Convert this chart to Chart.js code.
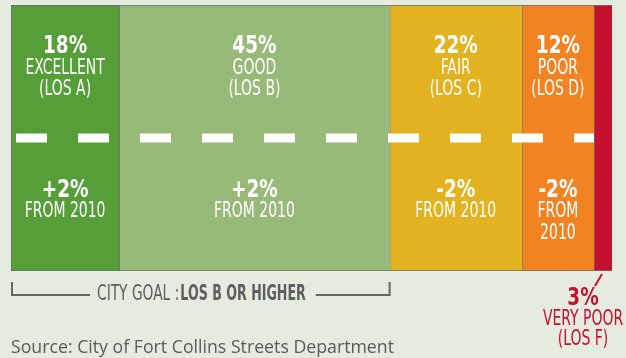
<!DOCTYPE html>
<html>
<head>
<meta charset="utf-8">
<script src="https://cdn.jsdelivr.net/npm/chart.js@4"></script>
<style>
  body { margin: 0; background: #e5ecdf; }
  canvas { display: block; }
</style>
</head>
<body>
<canvas id="losChart" width="626" height="358"></canvas>
<script>
// Street pavement condition (level of service) shares
const levels = ["EXCELLENT", "GOOD", "FAIR", "POOR", "VERY POOR"];
const losCodes = ["(LOS A)", "(LOS B)", "(LOS C)", "(LOS D)", "(LOS F)"];
const shares = [18, 45, 22, 12, 3];
const changeFrom2010 = [2, 2, -2, -2, null];
const segmentColors = ["#569e37", "#97ba78", "#e3b221", "#f28323", "#c4122e"];
const goalLevels = 2; // LOS A + LOS B
const sourceText = "Source: City of Fort Collins Streets Department";

const narrow = '"Liberation Sans Narrow", "DejaVu Sans Condensed", sans-serif';

// draw horizontally squeezed text (the condensed look of the labels)
function squeezeText(ctx, text, x, y, font, color, sx, align) {
  ctx.save();
  ctx.font = font;
  ctx.fillStyle = color;
  ctx.textAlign = align || "center";
  ctx.textBaseline = "middle";
  ctx.translate(x, y);
  ctx.scale(sx, 1);
  ctx.fillText(text, 0, 0);
  ctx.restore();
}

function textWidth(ctx, text, font, sx) {
  ctx.save();
  ctx.font = font;
  const w = ctx.measureText(text).width * sx;
  ctx.restore();
  return w;
}

const labelPlugin = {
  id: "losLabels",
  afterDatasetsDraw(chart) {
    const ctx = chart.ctx;
    const area = chart.chartArea;
    const xScale = chart.scales.x;
    const bold = "bold 25px " + narrow;
    const reg = "21px " + narrow;
    const sx = 0.74;
    const bsx = 0.82;

    // white dashed divider
    const redBar = chart.getDatasetMeta(levels.length - 1).data[0];
    const midY = (area.top + area.bottom) / 2;
    ctx.save();
    ctx.strokeStyle = "#ffffff";
    ctx.lineWidth = 9;
    ctx.setLineDash([31, 31]);
    ctx.beginPath();
    ctx.moveTo(area.left + 5, midY);
    ctx.lineTo(redBar.base, midY);
    ctx.stroke();
    ctx.restore();

    shares.forEach((v, i) => {
      const bar = chart.getDatasetMeta(i).data[0];
      const w = bar.x - bar.base;
      const cx = (bar.x + bar.base) / 2;
      if (w < 30) {
        // too thin: label goes under the bar in the segment colour
        const lx = area.right - 29;
        squeezeText(ctx, v + "%", lx, area.bottom + 27, bold, segmentColors[i], bsx);
        squeezeText(ctx, levels[i], lx, area.bottom + 49, reg, segmentColors[i], sx);
        squeezeText(ctx, losCodes[i], lx, area.bottom + 69, reg, segmentColors[i], sx);
        ctx.save();
        ctx.strokeStyle = segmentColors[i];
        ctx.lineWidth = 2;
        ctx.beginPath();
        ctx.moveTo(cx - 1, area.bottom + 3);
        ctx.lineTo(cx - 8, area.bottom + 15);
        ctx.stroke();
        ctx.restore();
        return;
      }
      squeezeText(ctx, v + "%", cx, 46, bold, "#ffffff", bsx);
      squeezeText(ctx, levels[i], cx, 69, reg, "#ffffff", sx);
      squeezeText(ctx, losCodes[i], cx, 90, reg, "#ffffff", sx);

      const c = changeFrom2010[i];
      if (c !== null) {
        squeezeText(ctx, (c > 0 ? "+" : "-") + Math.abs(c) + "%", cx, 190, bold, "#ffffff", bsx);
        const line = "FROM 2010";
        if (textWidth(ctx, line, reg, sx) > w - 10) {
          squeezeText(ctx, "FROM", cx, 212, reg, "#ffffff", sx);
          squeezeText(ctx, "2010", cx, 234, reg, "#ffffff", sx);
        } else {
          squeezeText(ctx, line, cx, 212, reg, "#ffffff", sx);
        }
      }
    });

    // city goal bracket under LOS A + B
    let goal = 0;
    for (let i = 0; i < goalLevels; i++) goal += shares[i];
    const gx0 = xScale.getPixelForValue(0);
    const gx1 = xScale.getPixelForValue(goal);
    const gy = area.bottom + 24;
    const grey = "#5e5e5e";
    const lightFont = "21px " + narrow;
    const boldFont = "bold 21px " + narrow;
    const part1 = "CITY GOAL :";
    const part2 = "LOS B OR HIGHER";
    const w1 = textWidth(ctx, part1, lightFont, 0.73);
    const w2 = textWidth(ctx, part2, boldFont, 0.67);
    const tx = gx0 + 86;
    squeezeText(ctx, part1, tx, gy, lightFont, grey, 0.73, "left");
    squeezeText(ctx, part2, tx + w1 + 1, gy, boldFont, grey, 0.67, "left");

    ctx.save();
    ctx.strokeStyle = "#666666";
    ctx.lineWidth = 2;
    ctx.beginPath();
    ctx.moveTo(gx0 + 1, area.bottom + 11);
    ctx.lineTo(gx0 + 1, gy);
    ctx.lineTo(tx - 7, gy);
    ctx.moveTo(tx + w1 + w2 + 11, gy);
    ctx.lineTo(gx1, gy);
    ctx.lineTo(gx1, area.bottom + 11);
    ctx.stroke();
    ctx.restore();

    // source line
    ctx.save();
    ctx.font = '19px "Open Sans", "Noto Sans", sans-serif';
    ctx.fillStyle = "#5a5a5a";
    ctx.textAlign = "left";
    ctx.textBaseline = "alphabetic";
    ctx.fillText(sourceText, 11, 353, 383);
    ctx.restore();
  }
};

new Chart(document.getElementById("losChart"), {
  type: "bar",
  data: {
    labels: ["2012"],
    datasets: shares.map((v, i) => ({
      label: levels[i],
      data: [v],
      backgroundColor: segmentColors[i],
      borderColor: "#6e6e6e",
      borderWidth: { top: 1, bottom: 1, left: 1, right: 0 },
      borderSkipped: false,
      barPercentage: 1,
      categoryPercentage: 1,
    })),
  },
  options: {
    indexAxis: "y",
    responsive: false,
    animation: false,
    layout: { padding: { left: 11, right: 14, top: 5, bottom: 87 } },
    scales: {
      x: { stacked: true, min: 0, max: 100, display: false },
      y: { stacked: true, display: false },
    },
    plugins: {
      legend: { display: false },
      tooltip: { enabled: false },
    },
  },
  plugins: [labelPlugin],
});
</script>
</body>
</html>
